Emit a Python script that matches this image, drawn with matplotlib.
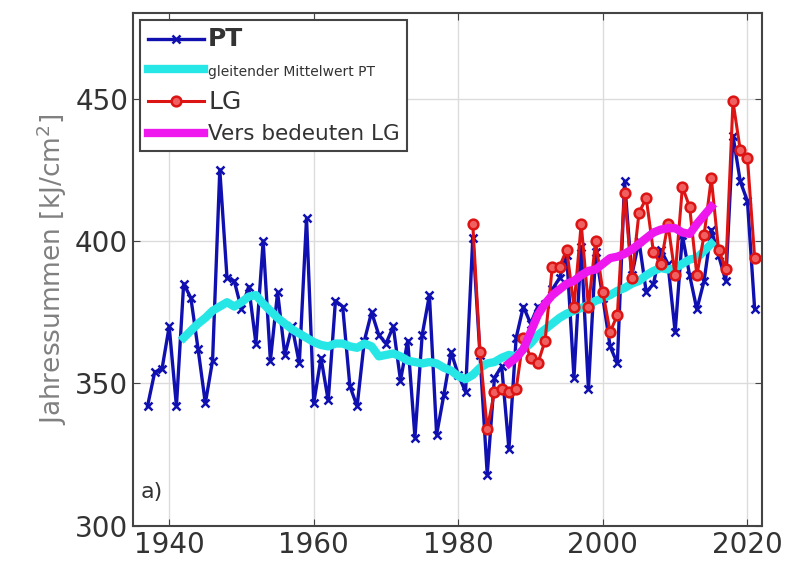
import matplotlib
matplotlib.use("Agg")
import matplotlib.pyplot as plt
import numpy as np

# PT yearly sums
pt_years = list(range(1937, 2022))
pt_values = [342, 354, 355, 370, 342, 385, 380, 362, 343, 358,
             425, 387, 386, 376, 384, 364, 400, 358, 382, 360,
             370, 357, 408, 343, 359, 344, 379, 377, 349, 342,
             365, 375, 367, 364, 370, 351, 365, 331, 367, 381,
             332, 346, 361, 353, 347, 401, 360, 318, 352, 356,
             327, 366, 377, 371, 377, 378, 383, 387, 395, 352,
             398, 348, 396, 380, 363, 357, 421, 388, 400, 382,
             385, 397, 392, 368, 402, 388, 376, 386, 404, 395,
             386, 437, 421, 414, 376]

# moving average PT
ma_years = list(range(1942, 2016))
ma_values = [366, 368.5, 371, 373, 375.5, 377, 378.5, 377, 378.5, 380.5,
             381, 378, 375.5, 373, 371, 369, 367.5, 366, 364.5, 363.5,
             363, 364, 364, 363, 362.5, 364, 363, 359.5, 360, 360.5,
             359.5, 358, 357.5, 357, 357.5, 357, 355.5, 354.5, 352.5, 351.5,
             353, 355.5, 357, 357.5, 359, 360, 359.5, 362, 364, 367,
             369, 371, 373, 374.5, 375.5, 376.5, 377.5, 379, 380, 381,
             382.5, 383.5, 385, 386, 388, 389.5, 390.5, 390, 390.5, 392,
             393.5, 394, 396.5, 399]

# LG yearly sums
lg_years = list(range(1982, 2022))
lg_values = [406, 361, 334, 347, 348, 347, 348, 366, 359, 357,
             365, 391, 391, 397, 377, 406, 377, 400, 382, 368,
             374, 417, 387, 410, 415, 396, 392, 406, 388, 419,
             412, 388, 402, 422, 397, 390, 449, 432, 429, 394]

# smoothed LG
lgs_years = list(range(1987, 2016))
lgs_values = [357, 359, 362, 368, 374, 378, 381, 383, 385, 386,
              388, 389.5, 390, 392, 394, 394.5, 395.5, 397, 399, 401,
              403, 404, 404.5, 404.5, 403, 402.5, 406, 409, 412]

fig = plt.figure(figsize=(7.92, 5.74), dpi=100)
ax = fig.add_axes([0.168, 0.084, 0.794, 0.893])

ax.plot(pt_years, pt_values, '-x', color='#1010b0', lw=2.4, ms=6, mew=1.8,
        label='PT', zorder=3)
ax.plot(ma_years, ma_values, '-', color='#27e6e6', lw=6, label='gleitender Mittelwert PT',
        zorder=4)
ax.plot(lg_years, lg_values, '-o', color='#dc1414', lw=2.2, ms=7, mew=1.8,
        mfc='#f06060', label='LG', zorder=5)
ax.plot(lgs_years, lgs_values, '-', color='#ee18ee', lw=6, label='Vers bedeuten LG',
        zorder=6)

ax.set_xlim(1935, 2022)
ax.set_ylim(300, 480)
ax.set_xticks([1940, 1960, 1980, 2000, 2020])
ax.set_yticks([300, 350, 400, 450])
ax.grid(True, color='#dcdcdc', lw=1)
ax.tick_params(direction='in', top=True, right=True, labelsize=20,
               labelcolor='#333333', length=5, color='#444444')
for s in ax.spines.values():
    s.set_color('#444444')
    s.set_linewidth(1.5)

ax.set_ylabel('Jahressummen [kJ/cm$^2$]', fontsize=19, color='#808080', labelpad=4)
ax.text(0.012, 0.055, 'a)', transform=ax.transAxes, fontsize=16, color='#333333')

leg = ax.legend(loc='upper left', bbox_to_anchor=(0.005, 0.995), fancybox=False,
                edgecolor='#444444', framealpha=1, fontsize=15, handlelength=2.7,
                handletextpad=0.2, borderpad=0.35, labelspacing=0.5,
                borderaxespad=0.2)
leg.get_frame().set_linewidth(1.5)
sizes = [18, 10, 18, 15.5]
for t, s in zip(leg.get_texts(), sizes):
    t.set_fontsize(s)
    t.set_color('#333333')
leg.get_texts()[0].set_fontweight('bold')

fig.savefig('out.png', dpi=100)
